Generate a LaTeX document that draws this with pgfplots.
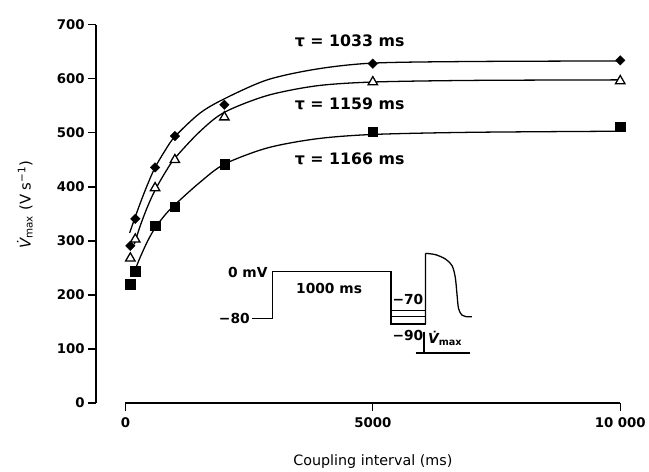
\documentclass[border=0pt]{standalone}
\usepackage{pgfplots}
\pgfplotsset{compat=1.18}
\usepackage{fontspec}
\setmainfont{DejaVu Sans}

\begin{document}
\begin{tikzpicture}
\begin{axis}[
  scale only axis,
  width=529.7bp, height=382.3bp,
  xmin=-594, xmax=10000, ymin=0, ymax=700,
  axis y line=left, axis x line=bottom,
  axis line style={line width=1.3bp},
  x axis line style={-, shorten <=29.7bp},
  y axis line style={-},
  tick align=outside, major tick length=8bp,
  tick style={line width=1.3bp, black},
  scaled x ticks=false,
  xtick={0,5000,10000}, xticklabels={0,5000,10\ 000},
  ytick={0,100,...,700},
  ticklabel style={font=\bfseries\fontsize{13.5}{16}\selectfont},
  xticklabel style={yshift=-3bp},
  /pgf/number format/assume math mode=true,
  xlabel={Coupling interval (ms)},
  xlabel style={at={(axis cs:5000,-115)}, anchor=base, font=\fontsize{14.5}{17}\selectfont},
  ylabel={{\itshape V̇}\textsubscript{max} (V s\textsuperscript{−1})},
  ylabel style={at={(axis cs:-2030,367)}, anchor=center, font=\fontsize{15}{18}\selectfont},
  clip=false,
]
% fitted curves
\addplot[line width=1.3bp, smooth, no marks] coordinates {
  (86,315) (186,341) (300,370) (450,405) (600,436) (800,467) (1000,493)
  (1500,536) (2000,563) (2866,598) (3866,618) (5000,629) (7000,632) (10000,633)};
\addplot[line width=1.3bp, smooth, no marks] coordinates {
  (180,294) (300,328) (450,364) (600,394) (800,426) (1000,453) (1500,502)
  (2000,538) (2866,569) (3866,587) (5000,594) (7000,597) (10000,598)};
\addplot[line width=1.3bp, smooth, no marks] coordinates {
  (220,252) (300,270) (450,300) (600,324) (800,348) (1000,367) (1500,408)
  (2000,442) (2866,472) (3866,489) (5000,497) (7000,501) (10000,503)};
% data
\addplot[only marks, mark=square*, mark size=3.4bp, mark options={rotate=45, fill=black, draw=black}] coordinates {
  (100,291) (200,341) (600,436) (1000,494) (2000,552) (5000,628) (10000,634)};
\addplot[only marks, mark=triangle*, mark size=5.5bp, mark options={fill=white, draw=black, line width=1.3bp}] coordinates {
  (100,268) (200,303) (600,398) (1000,450) (2000,529) (5000,594) (10000,596)};
\addplot[only marks, mark=square*, mark size=4.7bp, mark options={fill=black, draw=black}] coordinates {
  (100,220) (200,244) (600,328) (1000,364) (2000,442) (5000,502) (10000,511)};
\coordinate (O) at (axis cs:0,0);
\end{axis}

\begin{scope}[shift={(O)}]
\begin{scope}[x=1bp, y=-1bp, shift={(-126.7,-407.3)}, line width=1.3bp]
  \path (0,0) rectangle (649,469);
  % tau labels
  \begin{scope}[every node/.style={font=\bfseries\fontsize{16}{19}\selectfont}]
    \node at (353.3,41.7) {τ = 1033 ms};
    \node at (353.3,105) {τ = 1159 ms};
    \node at (353.3,160) {τ = 1166 ms};
  \end{scope}
  % inset protocol
  \draw (255,321.7) -- (275,321.7) -- (275,274.3) -- (395,274.3) -- (395,327.3) -- (430,327.3);
  \draw (395,314) -- (430,314);
  \draw (395,320) -- (430,320);
  \draw (430,327.3) -- (430,256) plot[smooth] coordinates {(430,256) (440,257.3) (450,261.7) (456.7,268.3)
    (460,280) (461.7,296.7) (463.3,311.7) (466.7,318.3) (471.7,320)} -- (476.7,320);
  \draw (428.3,335) -- (428.3,356.7);
  \draw (420,356.7) -- (475,356.7);
  \begin{scope}[every node/.style={font=\bfseries\fontsize{14}{17}\selectfont, inner sep=1bp}]
    \node[anchor=east] at (272,275) {0 mV};
    \node[anchor=east] at (254,321.7) {−80};
    \node at (332.5,291.7) {1000 ms};
    \node[anchor=west] at (395,303) {−70};
    \node[anchor=west] at (395,339) {−90};
    \node[anchor=west] at (431,342) {{\itshape V̇}\textsubscript{max}};
  \end{scope}
\end{scope}
\end{scope}
\end{tikzpicture}
\end{document}
